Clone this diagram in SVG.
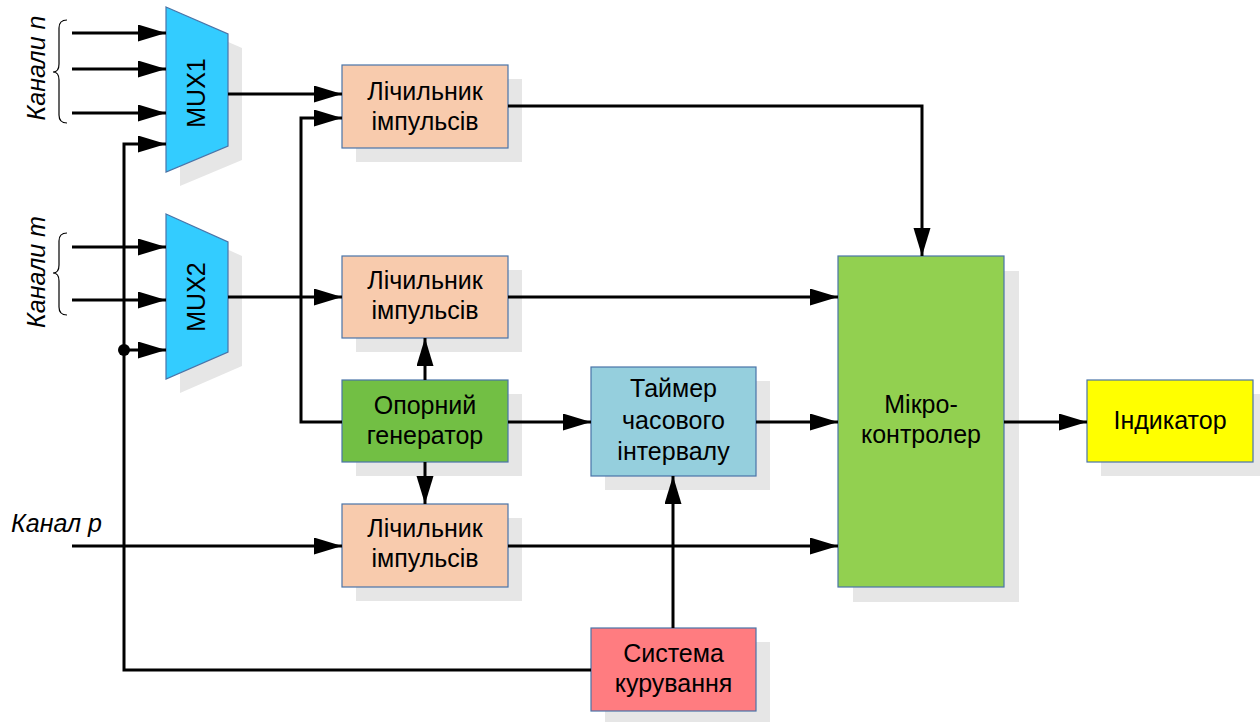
<svg xmlns="http://www.w3.org/2000/svg" width="1260" height="722" viewBox="0 0 1260 722">
<style>
.sh{fill:#e6e6e6}
.bx{stroke:#4a74a8;stroke-width:1.2}
.t{font-family:"Liberation Sans",Arial,sans-serif;font-size:25px;fill:#000;text-anchor:middle}
.it{font-family:"Liberation Sans",Arial,sans-serif;font-size:25px;font-style:italic;fill:#000}
.ln{fill:none;stroke:#000;stroke-width:3}
.br{fill:none;stroke:#000;stroke-width:1.2}
</style>
<defs>
<marker id="ar" markerUnits="userSpaceOnUse" markerWidth="30" markerHeight="20" refX="28" refY="8.5" orient="auto">
<path d="M0,0 L28,8.5 L0,17 z" fill="#000"/>
</marker>
</defs>
<rect width="1260" height="722" fill="#fff"/>

<g id="labels">
<path class="br" d="M67,20 Q59,20 59,28 L59,64 Q59,72 53,72 Q59,72 59,80 L59,115 Q59,123 67,123"/>
<text class="it" text-anchor="middle" transform="translate(45,68) rotate(-90)">Канали n</text>
<path class="br" d="M67,233 Q59,233 59,241 L59,265 Q59,273 53,273 Q59,273 59,281 L59,307 Q59,315 67,315"/>
<text class="it" text-anchor="middle" transform="translate(45,272) rotate(-90)">Канали m</text>
<text class="it" x="11" y="532">Канал p</text>
</g>

<g id="mux1">
<polygon class="sh" points="180,21 242,48 242,160 180,186"/>
<polygon class="bx" fill="#33ccff" points="166,7 228,34 228,146 166,172"/>
<text class="t" transform="translate(205,93) rotate(-90)">MUX1</text>
</g>
<g id="mux2">
<polygon class="sh" points="180,228 242,256 242,366 180,393"/>
<polygon class="bx" fill="#33ccff" points="166,214 228,242 228,352 166,379"/>
<text class="t" transform="translate(205,297) rotate(-90)">MUX2</text>
</g>

<g id="counter1">
<rect class="sh" x="356" y="79" width="166" height="83"/>
<rect class="bx" fill="#f8cbad" x="342" y="65" width="166" height="83"/>
<text class="t" x="425" y="100">Лічильник</text>
<text class="t" x="425" y="130">імпульсів</text>
</g>
<g id="counter2">
<rect class="sh" x="356" y="270" width="166" height="82"/>
<rect class="bx" fill="#f8cbad" x="342" y="256" width="166" height="82"/>
<text class="t" x="425" y="289">Лічильник</text>
<text class="t" x="425" y="319">імпульсів</text>
</g>
<g id="counter3">
<rect class="sh" x="356" y="518" width="166" height="83"/>
<rect class="bx" fill="#f8cbad" x="342" y="504" width="166" height="83"/>
<text class="t" x="425" y="537">Лічильник</text>
<text class="t" x="425" y="567">імпульсів</text>
</g>
<g id="generator">
<rect class="sh" x="356" y="394" width="166" height="82"/>
<rect class="bx" fill="#72bf44" x="342" y="380" width="166" height="82"/>
<text class="t" x="425" y="414">Опорний</text>
<text class="t" x="425" y="444">генератор</text>
</g>
<g id="timer">
<rect class="sh" x="605" y="381" width="165" height="109"/>
<rect class="bx" fill="#95cfdd" x="591" y="367" width="165" height="109"/>
<text class="t" x="673.5" y="397">Таймер</text>
<text class="t" x="673.5" y="429">часового</text>
<text class="t" x="673.5" y="460">інтервалу</text>
</g>
<g id="microcontroller">
<rect class="sh" x="853" y="271" width="166" height="331"/>
<rect class="bx" fill="#92d050" x="838" y="256" width="166" height="331"/>
<text class="t" x="921" y="413">Мікро-</text>
<text class="t" x="921" y="443">контролер</text>
</g>
<g id="indicator">
<rect class="sh" x="1101" y="394" width="166" height="82"/>
<rect class="bx" fill="#ffff00" x="1087" y="380" width="166" height="82"/>
<text class="t" x="1170" y="429">Індикатор</text>
</g>
<g id="control">
<rect class="sh" x="605" y="642" width="165" height="83"/>
<rect class="bx" fill="#ff7c80" x="591" y="628" width="165" height="83"/>
<text class="t" x="673.5" y="662">Система</text>
<text class="t" x="673.5" y="692">курування</text>
</g>

<g id="connectors">
<path class="ln" d="M72,33 H166" marker-end="url(#ar)"/>
<path class="ln" d="M72,69 H166" marker-end="url(#ar)"/>
<path class="ln" d="M72,113 H166" marker-end="url(#ar)"/>
<path class="ln" d="M72,247 H166" marker-end="url(#ar)"/>
<path class="ln" d="M72,300 H166" marker-end="url(#ar)"/>
<path class="ln" d="M591,670 H124 V144 H166" marker-end="url(#ar)"/>
<path class="ln" d="M124,350 H166" marker-end="url(#ar)"/>
<circle cx="124" cy="350" r="6" fill="#000"/>
<path class="ln" d="M228,94 H342" marker-end="url(#ar)"/>
<path class="ln" d="M228,297 H342" marker-end="url(#ar)"/>
<path class="ln" d="M342,422 H301 V118 H342" marker-end="url(#ar)"/>
<path class="ln" d="M425,380 V338" marker-end="url(#ar)"/>
<path class="ln" d="M425,462 V504" marker-end="url(#ar)"/>
<path class="ln" d="M508,422 H591" marker-end="url(#ar)"/>
<path class="ln" d="M756,422 H838" marker-end="url(#ar)"/>
<path class="ln" d="M1004,422 H1087" marker-end="url(#ar)"/>
<path class="ln" d="M508,106 H922 V256" marker-end="url(#ar)"/>
<path class="ln" d="M508,297 H838" marker-end="url(#ar)"/>
<path class="ln" d="M72,546 H342" marker-end="url(#ar)"/>
<path class="ln" d="M508,546 H838" marker-end="url(#ar)"/>
<path class="ln" d="M673,628 V476" marker-end="url(#ar)"/>
</g>
</svg>
